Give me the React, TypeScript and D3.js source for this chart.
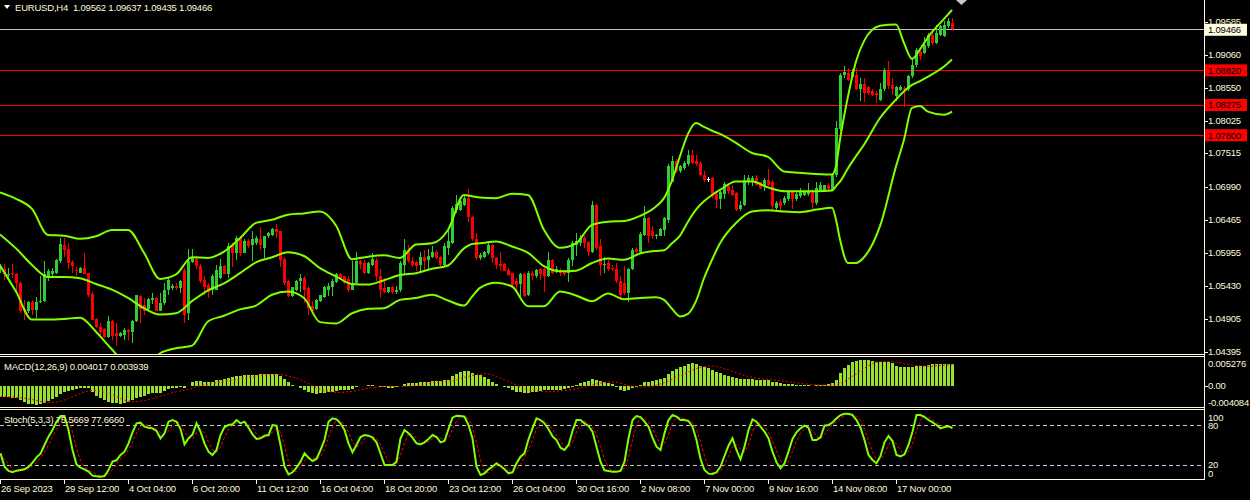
import * as d3 from 'd3';

// EURUSD H4 candles, 239 bars (26 Sep 2023 .. 21 Nov 2023)
const opens = [
  1.0569, 1.0569, 1.0560, 1.0563, 1.0562, 1.0548, 1.0507, 1.0503, 1.0517, 1.0505,
  1.0517, 1.0519, 1.0558, 1.0561, 1.0564, 1.0582, 1.0608, 1.0601, 1.0580, 1.0568,
  1.0564, 1.0571, 1.0563, 1.0531, 1.0491, 1.0479, 1.0475, 1.0463, 1.0487, 1.0469,
  1.0464, 1.0466, 1.0473, 1.0471, 1.0487, 1.0527, 1.0513, 1.0506, 1.0521, 1.0524,
  1.0504, 1.0516, 1.0537, 1.0540, 1.0543, 1.0540, 1.0568, 1.0500, 1.0580, 1.0586,
  1.0575, 1.0553, 1.0545, 1.0537, 1.0537, 1.0555, 1.0575, 1.0562, 1.0608, 1.0595,
  1.0619, 1.0595, 1.0613, 1.0608, 1.0610, 1.0616, 1.0603, 1.0621, 1.0623, 1.0632,
  1.0629, 1.0585, 1.0550, 1.0527, 1.0537, 1.0550, 1.0556, 1.0540, 1.0511, 1.0507,
  1.0519, 1.0526, 1.0537, 1.0542, 1.0549, 1.0562, 1.0558, 1.0554, 1.0537, 1.0548,
  1.0582, 1.0579, 1.0564, 1.0576, 1.0584, 1.0559, 1.0540, 1.0533, 1.0541, 1.0534,
  1.0537, 1.0576, 1.0599, 1.0582, 1.0580, 1.0576, 1.0588, 1.0584, 1.0589, 1.0597,
  1.0589, 1.0576, 1.0603, 1.0610, 1.0663, 1.0663, 1.0671, 1.0681, 1.0651, 1.0617,
  1.0587, 1.0589, 1.0594, 1.0608, 1.0587, 1.0577, 1.0577, 1.0568, 1.0563, 1.0550,
  1.0546, 1.0561, 1.0529, 1.0564, 1.0558, 1.0569, 1.0569, 1.0558, 1.0584, 1.0566,
  1.0568, 1.0566, 1.0563, 1.0584, 1.0608, 1.0611, 1.0618, 1.0612, 1.0597, 1.0671,
  1.0605, 1.0576, 1.0579, 1.0571, 1.0570, 1.0550, 1.0547, 1.0532, 1.0570, 1.0601,
  1.0596, 1.0623, 1.0650, 1.0630, 1.0621, 1.0622, 1.0631, 1.0647, 1.0707, 1.0739,
  1.0723, 1.0728, 1.0734, 1.0749, 1.0739, 1.0736, 1.0718, 1.0711, 1.0713, 1.0687,
  1.0679, 1.0688, 1.0700, 1.0694, 1.0689, 1.0664, 1.0671, 1.0706, 1.0707, 1.0713,
  1.0706, 1.0700, 1.0710, 1.0707, 1.0665, 1.0675, 1.0673, 1.0679, 1.0692, 1.0679,
  1.0684, 1.0686, 1.0687, 1.0692, 1.0673, 1.0694, 1.0694, 1.0702, 1.0694, 1.0718,
  1.0789, 1.0875, 1.0878, 1.0872, 1.0875, 1.0852, 1.0861, 1.0856, 1.0850, 1.0846,
  1.0836, 1.0852, 1.0883, 1.0859, 1.0841, 1.0851, 1.0854, 1.0853, 1.0873, 1.0891,
  1.0912, 1.0909, 1.0920, 1.0938, 1.0925, 1.0938, 1.0936, 1.0951, 1.09562,
];
const highs = [
  1.0578, 1.0577, 1.0571, 1.0577, 1.0564, 1.0551, 1.0521, 1.0519, 1.0521, 1.0526,
  1.0558, 1.0582, 1.0569, 1.0571, 1.0585, 1.0618, 1.0618, 1.0610, 1.0584, 1.0573,
  1.0573, 1.0594, 1.0564, 1.0533, 1.0492, 1.0485, 1.0477, 1.0496, 1.0489, 1.0485,
  1.0470, 1.0477, 1.0475, 1.0490, 1.0529, 1.0529, 1.0524, 1.0524, 1.0532, 1.0525,
  1.0532, 1.0547, 1.0555, 1.0546, 1.0548, 1.0553, 1.0571, 1.0601, 1.0601, 1.0590,
  1.0578, 1.0559, 1.0547, 1.0561, 1.0576, 1.0585, 1.0576, 1.0611, 1.0611, 1.0621,
  1.0621, 1.0616, 1.0616, 1.0629, 1.0621, 1.0636, 1.0622, 1.0628, 1.0634, 1.0641,
  1.0630, 1.0588, 1.0552, 1.0542, 1.0553, 1.0561, 1.0558, 1.0543, 1.0519, 1.0523,
  1.0529, 1.0543, 1.0548, 1.0554, 1.0563, 1.0564, 1.0559, 1.0558, 1.0582, 1.0597,
  1.0584, 1.0583, 1.0581, 1.0595, 1.0587, 1.0569, 1.0555, 1.0542, 1.0543, 1.0543,
  1.0582, 1.0617, 1.0608, 1.0588, 1.0582, 1.0597, 1.0600, 1.0601, 1.0605, 1.0599,
  1.0590, 1.0610, 1.0629, 1.0668, 1.0686, 1.0679, 1.0686, 1.0695, 1.0653, 1.0626,
  1.0595, 1.0598, 1.0610, 1.0609, 1.0589, 1.0597, 1.0579, 1.0571, 1.0564, 1.0555,
  1.0563, 1.0563, 1.0566, 1.0566, 1.0570, 1.0571, 1.0571, 1.0597, 1.0585, 1.0574,
  1.0571, 1.0568, 1.0587, 1.0613, 1.0626, 1.0623, 1.0621, 1.0613, 1.0677, 1.0672,
  1.0617, 1.0589, 1.0584, 1.0576, 1.0579, 1.0558, 1.0574, 1.0571, 1.0603, 1.0604,
  1.0627, 1.0669, 1.0651, 1.0637, 1.0625, 1.0634, 1.0651, 1.0734, 1.0748, 1.0742,
  1.0733, 1.0739, 1.0757, 1.0757, 1.0749, 1.0739, 1.0723, 1.0715, 1.0715, 1.0689,
  1.0693, 1.0706, 1.0704, 1.0702, 1.0690, 1.0676, 1.0718, 1.0718, 1.0716, 1.0718,
  1.0707, 1.0713, 1.0727, 1.0710, 1.0676, 1.0679, 1.0684, 1.0694, 1.0693, 1.0690,
  1.0697, 1.0693, 1.0705, 1.0695, 1.0707, 1.0706, 1.0702, 1.0705, 1.0720, 1.0802,
  1.0878, 1.0889, 1.0886, 1.0884, 1.0886, 1.0870, 1.0870, 1.0858, 1.0853, 1.0849,
  1.0862, 1.0886, 1.0896, 1.0870, 1.0858, 1.0859, 1.0858, 1.0875, 1.0901, 1.0917,
  1.0913, 1.0935, 1.0941, 1.0941, 1.0954, 1.0954, 1.0959, 1.0964, 1.09637,
];
const lows = [
  1.0563, 1.0553, 1.0557, 1.0555, 1.0534, 1.0500, 1.0490, 1.0500, 1.0498, 1.0492,
  1.0516, 1.0517, 1.0550, 1.0558, 1.0562, 1.0579, 1.0589, 1.0569, 1.0563, 1.0558,
  1.0563, 1.0561, 1.0526, 1.0489, 1.0477, 1.0466, 1.0461, 1.0461, 1.0458, 1.0449,
  1.0463, 1.0458, 1.0458, 1.0453, 1.0486, 1.0485, 1.0498, 1.0504, 1.0515, 1.0503,
  1.0503, 1.0513, 1.0529, 1.0537, 1.0536, 1.0532, 1.0485, 1.0490, 1.0579, 1.0570,
  1.0548, 1.0529, 1.0524, 1.0529, 1.0536, 1.0554, 1.0561, 1.0555, 1.0573, 1.0584,
  1.0590, 1.0594, 1.0603, 1.0582, 1.0607, 1.0600, 1.0587, 1.0619, 1.0622, 1.0618,
  1.0573, 1.0545, 1.0525, 1.0525, 1.0535, 1.0534, 1.0516, 1.0498, 1.0500, 1.0505,
  1.0517, 1.0524, 1.0527, 1.0527, 1.0548, 1.0553, 1.0546, 1.0534, 1.0536, 1.0547,
  1.0570, 1.0562, 1.0562, 1.0574, 1.0550, 1.0524, 1.0532, 1.0532, 1.0531, 1.0531,
  1.0534, 1.0561, 1.0579, 1.0573, 1.0567, 1.0567, 1.0566, 1.0569, 1.0587, 1.0585,
  1.0574, 1.0574, 1.0592, 1.0609, 1.0658, 1.0660, 1.0668, 1.0644, 1.0613, 1.0583,
  1.0584, 1.0587, 1.0592, 1.0579, 1.0569, 1.0566, 1.0566, 1.0558, 1.0542, 1.0534,
  1.0524, 1.0526, 1.0527, 1.0553, 1.0555, 1.0553, 1.0534, 1.0557, 1.0562, 1.0563,
  1.0558, 1.0558, 1.0549, 1.0574, 1.0590, 1.0605, 1.0603, 1.0590, 1.0595, 1.0600,
  1.0558, 1.0563, 1.0566, 1.0566, 1.0548, 1.0521, 1.0529, 1.0517, 1.0568, 1.0594,
  1.0595, 1.0621, 1.0611, 1.0616, 1.0616, 1.0621, 1.0621, 1.0642, 1.0706, 1.0720,
  1.0721, 1.0726, 1.0732, 1.0734, 1.0731, 1.0716, 1.0707, 1.0706, 1.0681, 1.0665,
  1.0664, 1.0680, 1.0688, 1.0685, 1.0660, 1.0660, 1.0668, 1.0702, 1.0700, 1.0701,
  1.0695, 1.0692, 1.0700, 1.0660, 1.0662, 1.0663, 1.0671, 1.0676, 1.0664, 1.0676,
  1.0681, 1.0685, 1.0684, 1.0664, 1.0671, 1.0693, 1.0692, 1.0693, 1.0693, 1.0715,
  1.0786, 1.0870, 1.0865, 1.0871, 1.0851, 1.0833, 1.0832, 1.0844, 1.0841, 1.0831,
  1.0833, 1.0849, 1.0852, 1.0844, 1.0833, 1.0849, 1.0825, 1.0849, 1.0870, 1.0888,
  1.0899, 1.0907, 1.0917, 1.0922, 1.0924, 1.0936, 1.0935, 1.0949, 1.09435,
];
const closes = [
  1.0574, 1.0561, 1.0562, 1.0561, 1.0547, 1.0503, 1.0503, 1.0517, 1.0505, 1.0518,
  1.0520, 1.0561, 1.0567, 1.0566, 1.0583, 1.0609, 1.0600, 1.0579, 1.0575, 1.0566,
  1.0571, 1.0562, 1.0529, 1.0490, 1.0479, 1.0471, 1.0463, 1.0487, 1.0464, 1.0464,
  1.0469, 1.0473, 1.0470, 1.0488, 1.0528, 1.0506, 1.0503, 1.0522, 1.0524, 1.0504,
  1.0516, 1.0537, 1.0553, 1.0543, 1.0540, 1.0550, 1.0498, 1.0582, 1.0587, 1.0575,
  1.0551, 1.0542, 1.0534, 1.0558, 1.0568, 1.0575, 1.0562, 1.0605, 1.0595, 1.0618,
  1.0594, 1.0613, 1.0605, 1.0616, 1.0618, 1.0608, 1.0621, 1.0626, 1.0632, 1.0627,
  1.0583, 1.0547, 1.0527, 1.0541, 1.0551, 1.0556, 1.0537, 1.0508, 1.0504, 1.0521,
  1.0528, 1.0542, 1.0543, 1.0551, 1.0562, 1.0554, 1.0548, 1.0536, 1.0548, 1.0582,
  1.0578, 1.0564, 1.0579, 1.0585, 1.0558, 1.0537, 1.0534, 1.0541, 1.0533, 1.0537,
  1.0579, 1.0599, 1.0582, 1.0576, 1.0575, 1.0588, 1.0582, 1.0590, 1.0596, 1.0587,
  1.0576, 1.0605, 1.0613, 1.0665, 1.0672, 1.0676, 1.0681, 1.0651, 1.0616, 1.0587,
  1.0592, 1.0596, 1.0608, 1.0587, 1.0576, 1.0575, 1.0567, 1.0560, 1.0545, 1.0545,
  1.0562, 1.0527, 1.0564, 1.0558, 1.0568, 1.0561, 1.0558, 1.0584, 1.0563, 1.0569,
  1.0563, 1.0561, 1.0584, 1.0610, 1.0613, 1.0618, 1.0610, 1.0597, 1.0671, 1.0603,
  1.0576, 1.0577, 1.0569, 1.0569, 1.0550, 1.0529, 1.0532, 1.0570, 1.0600, 1.0596,
  1.0625, 1.0650, 1.0622, 1.0621, 1.0623, 1.0632, 1.0650, 1.0731, 1.0739, 1.0723,
  1.0731, 1.0737, 1.0749, 1.0736, 1.0735, 1.0718, 1.0710, 1.0711, 1.0684, 1.0678,
  1.0690, 1.0703, 1.0692, 1.0686, 1.0663, 1.0671, 1.0710, 1.0713, 1.0712, 1.0702,
  1.0697, 1.0710, 1.0702, 1.0668, 1.0674, 1.0669, 1.0681, 1.0692, 1.0679, 1.0687,
  1.0692, 1.0690, 1.0692, 1.0673, 1.0697, 1.0701, 1.0701, 1.0695, 1.0718, 1.0791,
  1.0875, 1.0880, 1.0867, 1.0880, 1.0853, 1.0861, 1.0846, 1.0847, 1.0844, 1.0844,
  1.0852, 1.0883, 1.0857, 1.0853, 1.0856, 1.0856, 1.0852, 1.0873, 1.0891, 1.0914,
  1.0905, 1.0922, 1.0938, 1.0925, 1.0941, 1.0951, 1.0954, 1.0959, 1.09466,
];

// Bollinger bands read at sample bars
const bandIdx = [
  0, 4, 8, 12, 16, 20, 24, 28, 32, 36, 40, 44, 48, 52, 56, 60, 64, 68, 72, 76,
  80, 84, 88, 92, 96, 100, 104, 108, 112, 116, 118, 120, 124, 128, 132, 136, 140, 144, 148, 152,
  156, 160, 164, 166, 168, 170, 172, 174, 176, 178, 180, 184, 188, 192, 196, 200, 204, 208, 209, 210,
  212, 214, 216, 220, 224, 226, 228, 230, 232, 236, 238,
];
const bandUpper = [
  1.0690, 1.0680, 1.0664, 1.0623, 1.0622, 1.0617, 1.0621, 1.0631, 1.0631, 1.0595,
  1.0554, 1.0561, 1.0588, 1.0587, 1.0597, 1.0618, 1.0642, 1.0647, 1.0655, 1.0657,
  1.0660, 1.0638, 1.0585, 1.0589, 1.0591, 1.0587, 1.0608, 1.0610, 1.0631, 1.0686,
  1.0684, 1.0682, 1.0681, 1.0688, 1.0686, 1.0631, 1.0603, 1.0610, 1.0639, 1.0644,
  1.0645, 1.0653, 1.0668, 1.0681, 1.0709, 1.0747, 1.0782, 1.0799, 1.0793, 1.0787,
  1.0782, 1.0768, 1.0752, 1.0746, 1.0723, 1.0721, 1.0719, 1.0718, 1.0731, 1.0773,
  1.0841, 1.0896, 1.0928, 1.0952, 1.0954, 1.0925, 1.0900, 1.0915, 1.0934, 1.0963,
  1.0977,
];
const bandMiddle = [
  1.0624, 1.0602, 1.0576, 1.0557, 1.0557, 1.0555, 1.0546, 1.0537, 1.0524, 1.0508,
  1.0498, 1.0500, 1.0519, 1.0536, 1.0547, 1.0563, 1.0580, 1.0588, 1.0596, 1.0590,
  1.0571, 1.0558, 1.0546, 1.0545, 1.0552, 1.0560, 1.0563, 1.0570, 1.0575, 1.0602,
  1.0609, 1.0610, 1.0613, 1.0605, 1.0595, 1.0574, 1.0566, 1.0567, 1.0579, 1.0586,
  1.0584, 1.0594, 1.0598, 1.0599, 1.0610, 1.0622, 1.0644, 1.0663, 1.0676, 1.0686,
  1.0694, 1.0707, 1.0707, 1.0698, 1.0692, 1.0692, 1.0692, 1.0693, 1.0700, 1.0707,
  1.0728, 1.0747, 1.0765, 1.0807, 1.0836, 1.0849, 1.0859, 1.0865, 1.0872, 1.0888,
  1.0899,
];
const bandLower = [
  1.0575, 1.0534, 1.0490, 1.0490, 1.0491, 1.0493, 1.0471, 1.0443, 1.0419, 1.0417,
  1.0437, 1.0445, 1.0449, 1.0487, 1.0496, 1.0506, 1.0512, 1.0529, 1.0534, 1.0524,
  1.0486, 1.0484, 1.0500, 1.0507, 1.0508, 1.0521, 1.0524, 1.0529, 1.0520, 1.0512,
  1.0526, 1.0540, 1.0548, 1.0542, 1.0511, 1.0511, 1.0534, 1.0528, 1.0519, 1.0531,
  1.0522, 1.0524, 1.0525, 1.0521, 1.0507, 1.0495, 1.0499, 1.0519, 1.0555, 1.0584,
  1.0610, 1.0642, 1.0660, 1.0662, 1.0660, 1.0659, 1.0663, 1.0666, 1.0647, 1.0616,
  1.0579, 1.0579, 1.0588, 1.0637, 1.0731, 1.0773, 1.0823, 1.0826, 1.0817, 1.0812,
  1.0817,
];

// MACD(12,26,9) main line, one value per bar
const macd = [
  -0.0020, -0.0020, -0.0021, -0.0022, -0.0023, -0.0026, -0.0029, -0.0033, -0.0034, -0.0036,
  -0.0034, -0.0031, -0.0028, -0.0025, -0.0021, -0.0016, -0.0011, -0.0009, -0.0007, -0.0006,
  -0.0005, -0.0004, -0.0005, -0.0012, -0.0018, -0.0023, -0.0027, -0.0029, -0.0031, -0.0032,
  -0.0033, -0.0031, -0.0029, -0.0027, -0.0022, -0.0020, -0.0018, -0.0016, -0.0014, -0.0014,
  -0.0013, -0.0010, -0.0006, -0.0005, -0.0004, -0.00025, -0.0005, 0.0000, 0.0006, 0.00086,
  0.00086, 0.0007, 0.0006, 0.0007, 0.0010, 0.0011, 0.0012, 0.0015, 0.0016, 0.0018,
  0.0018, 0.0020, 0.0020, 0.0020, 0.0020, 0.0021, 0.0021, 0.00215, 0.0022, 0.00215,
  0.0018, 0.0012, 0.0006, 0.0001, 0.0000, -0.0004, -0.0007, -0.0012, -0.0014, -0.0015,
  -0.0014, -0.00135, -0.0012, -0.00116, -0.0010, -0.00086, -0.0007, -0.0007, -0.0006, -0.0003,
  -0.00012, 0.0000, 0.00012, 0.0002, 0.0000, -0.0002, -0.0003, -0.0004, -0.00043, -0.0003,
  0.0000, 0.00037, 0.00043, 0.0005, 0.0005, 0.0006, 0.0007, 0.0007, 0.00086, 0.00086,
  0.00086, 0.0010, 0.0011, 0.0017, 0.0022, 0.0026, 0.0027, 0.0027, 0.0023, 0.0020,
  0.0020, 0.00165, 0.0012, 0.0006, 0.00025, 0.0000, -0.0002, -0.0005, -0.0008, -0.0011,
  -0.0012, -0.0014, -0.00135, -0.0012, -0.0011, -0.0010, -0.00086, -0.0007, -0.0007, -0.0008,
  -0.0007, -0.00067, -0.0005, -0.0002, 0.00012, 0.00043, 0.0007, 0.00086, 0.0012, 0.0010,
  0.00086, 0.0006, 0.00043, 0.00025, -0.0002, -0.0008, -0.0009, -0.0007, -0.0004, -0.00025,
  0.00012, 0.0006, 0.0007, 0.00086, 0.0010, 0.0012, 0.0015, 0.0021, 0.0027, 0.0031,
  0.0034, 0.0037, 0.0040, 0.0041, 0.0039, 0.0037, 0.0035, 0.0033, 0.0029, 0.0026,
  0.0023, 0.0020, 0.0018, 0.0016, 0.00135, 0.0012, 0.0012, 0.0012, 0.0012, 0.0011,
  0.00104, 0.0010, 0.0010, 0.0007, 0.0006, 0.00043, 0.00037, 0.0003, 0.00025, 0.00018,
  0.00012, 0.00012, 0.00006, 0.0000, 0.00006, 0.00012, 0.00018, 0.00025, 0.00043, 0.0010,
  0.0023, 0.0032, 0.0038, 0.0043, 0.0045, 0.0047, 0.0047, 0.0047, 0.0045, 0.0044,
  0.0043, 0.0043, 0.0043, 0.0042, 0.0036, 0.0034, 0.0034, 0.0034, 0.0035, 0.0036,
  0.0037, 0.0037, 0.0038, 0.0039, 0.0039, 0.0039, 0.0039, 0.0039, 0.004017,
];

// Stochastic(5,3,3) %K, one value per bar
const stochK = [
  37.5, 17.5, 11, 9, 11.5, 12.5, 13.5, 17, 23.5, 31.5,
  37, 50, 62.5, 72.5, 85, 93.5, 93.5, 72.5, 42.5, 21,
  16, 13.5, 10, 4, 3, 2.5, 3.5, 12.5, 25, 27,
  35, 40, 52.5, 69, 82.5, 83.5, 77.5, 76, 75, 71,
  60, 67.5, 85, 87.5, 85, 74, 51, 60, 66, 82.5,
  70, 52.5, 40, 35, 42.5, 65, 77, 80, 81, 87.5,
  82.5, 85, 76, 66, 59, 60, 64, 65, 80, 79,
  50, 17.5, 6, 9, 16, 25, 37.5, 31, 26, 29,
  42.5, 57.5, 85, 90, 88.5, 82.5, 72.5, 52.5, 39, 50,
  62, 65, 64, 61, 54, 37.5, 20, 20, 20, 25,
  60, 72.5, 67.5, 61, 52.5, 51, 54, 59, 65, 62,
  54, 56, 74, 91, 94, 93.5, 92.5, 80, 60, 17.5,
  5, 7.5, 13.5, 17.5, 22.5, 18.5, 13.5, 7.5, 9, 22.5,
  32.5, 37.5, 58.5, 75, 90, 87.5, 82.5, 74, 63, 57.5,
  46, 42.5, 50, 71, 87.5, 87.5, 82.5, 78.5, 70, 47.5,
  25, 12, 11, 10, 10, 11, 25, 60, 87.5, 93.5,
  92, 85, 77.5, 61, 47.5, 42.5, 67.5, 87.5, 95, 92.5,
  87.5, 87.5, 86, 77.5, 57.5, 29, 12.5, 7, 6.5, 9,
  17.5, 33.5, 49, 60, 42.5, 28.5, 47.5, 72.5, 88.5, 85,
  77.5, 70, 60, 40, 24, 15, 22.5, 40, 59, 69,
  75, 79, 76, 57.5, 57.5, 61.5, 79, 80, 84, 90,
  95, 97, 97, 95, 87.5, 76, 57.5, 35, 27.5, 22.5,
  33.5, 54, 63.5, 56, 35, 33, 36, 50, 70, 95,
  95, 92, 87.5, 84, 80, 75, 77, 78, 75.5669,
];

const priceTicks = [1.09585, 1.0906, 1.0855, 1.08025, 1.07515, 1.0699, 1.06465, 1.05955, 1.0543, 1.04905, 1.04395];
const levelLines = [1.0882, 1.08275, 1.078];
const bidPrice = 1.09466;
const timeLabelBars = [0, 16, 32, 48, 64, 80, 96, 112, 128, 144, 160, 176, 192, 208, 224];
const timeLabels = [
  '26 Sep 2023', '29 Sep 12:00', '4 Oct 04:00', '6 Oct 20:00', '11 Oct 12:00',
  '16 Oct 04:00', '18 Oct 20:00', '23 Oct 12:00', '26 Oct 04:00', '30 Oct 16:00',
  '2 Nov 08:00', '7 Nov 00:00', '9 Nov 16:00', '14 Nov 08:00', '17 Nov 00:00',
];

const AXIS_X = 1204;
const TEXT = '#fff8dc';
const BAND = '#80ff00';
const BULL = '#32cd32';
const BEAR = '#ff0000';
const FONT = '"Liberation Sans", Arial, sans-serif';
const FS = 9.5;
const LS = -0.2;

function movingAverage(values: number[], period: number) {
  return values.map((_, i) => d3.mean(values.slice(Math.max(0, i - period + 1), i + 1)) as number);
}

export default function App() {
  const n = closes.length;
  const x = d3.scaleLinear().domain([0, n - 1]).range([0, 4 * (n - 1)]);
  const y = d3.scaleLinear().domain([1.04395, 1.09585]).range([351.7, 21.7]);
  const yMacd = d3.scaleLinear().domain([-0.004084, 0.005276]).range([408, 357]);
  const yStoch = d3.scaleLinear().domain([0, 100]).range([478.3, 411.7]);

  const bandLine = (vals: number[]) =>
    d3.line<number>()
      .x((_, k) => x(bandIdx[k]))
      .y(v => y(v))
      .curve(d3.curveMonotoneX)(vals) ?? '';

  const macdSignal = movingAverage(macd, 9);
  const stochD = movingAverage(stochK, 3);
  const seriesLine = (vals: number[], sy: d3.ScaleLinear<number, number>) =>
    d3.line<number>().x((_, i) => x(i) + 0.5).y(v => sy(v))(vals) ?? '';

  const label = (text: string, yy: number, fill = TEXT) => (
    <text x={1208} y={yy} fill={fill} dominantBaseline="central">{text}</text>
  );

  return (
    <svg width={1250} height={500} style={{ position: 'absolute', left: 0, top: 0, display: 'block' }}
      fontFamily={FONT} fontSize={FS} letterSpacing={LS}>
      <defs>
        <clipPath id="mainClip"><rect x={0} y={0} width={AXIS_X} height={354} /></clipPath>
      </defs>
      <rect width={1250} height={500} fill="#000" />

      {/* main window */}
      <g clipPath="url(#mainClip)">
        {levelLines.map(p => (
          <line key={p} x1={0} x2={AXIS_X} y1={Math.round(y(p)) + 0.5} y2={Math.round(y(p)) + 0.5} stroke="#ff0000" />
        ))}
        <line x1={0} x2={AXIS_X} y1={Math.round(y(bidPrice)) + 0.5} y2={Math.round(y(bidPrice)) + 0.5} stroke="#c0c0c0" />
        <g shapeRendering="crispEdges">
          {closes.map((c, i) => {
            const o = opens[i];
            const col = c > o ? BULL : c < o ? BEAR : '#ffffff';
            const top = y(Math.max(o, c));
            const bot = y(Math.min(o, c));
            const cx = x(i);
            return (
              <g key={i}>
                <line x1={cx + 0.5} x2={cx + 0.5} y1={y(highs[i])} y2={y(lows[i])} stroke={col} />
                {c === o
                  ? <line x1={cx - 1} x2={cx + 2} y1={top} y2={top} stroke={col} />
                  : <rect x={cx - 1} width={3} y={top} height={Math.max(1, bot - top)} fill={col} />}
              </g>
            );
          })}
        </g>
        {[bandUpper, bandMiddle, bandLower].map((b, k) => (
          <path key={k} d={bandLine(b)} fill="none" stroke={BAND} strokeWidth={2} />
        ))}
      </g>
      <path d="M956,0 L967,0 L961.5,5 Z" fill="#c8c8c8" />
      <path d="M4,5 L10,5 L7,9 Z" fill="#ffffff" />
      <text x={15} y={7.5} fill={TEXT} dominantBaseline="central" style={{ whiteSpace: 'pre' }}>
        {'EURUSD,H4  1.09562 1.09637 1.09435 1.09466'}
      </text>

      {/* MACD window */}
      <g shapeRendering="crispEdges">
        {macd.map((v, i) => (
          <rect key={i} x={x(i) - 1} width={3}
            y={Math.min(yMacd(v), yMacd(0))} height={Math.max(0.5, Math.abs(yMacd(v) - yMacd(0)))}
            fill="#9ae02e" />
        ))}
      </g>
      <path d={seriesLine(macdSignal, yMacd)} fill="none" stroke="#ff0000" strokeDasharray="2,2" />
      <text x={4} y={366} fill={TEXT} dominantBaseline="central">MACD(12,26,9) 0.004017 0.003939</text>

      {/* Stochastic window */}
      {[80, 20].map(v => (
        <line key={v} x1={0} x2={AXIS_X} y1={Math.round(yStoch(v)) + 0.5} y2={Math.round(yStoch(v)) + 0.5}
          stroke="#c8c8c8" strokeDasharray="4,3" />
      ))}
      <path d={seriesLine(stochD, yStoch)} fill="none" stroke="#ff0000" strokeDasharray="3,2" />
      <path d={seriesLine(stochK, yStoch)} fill="none" stroke={BAND} strokeWidth={2} />
      <text x={4} y={419} fill={TEXT} dominantBaseline="central">Stoch(5,3,3) 75.5669 77.6660</text>

      {/* frames */}
      <g stroke={TEXT} shapeRendering="crispEdges">
        <line x1={0} x2={AXIS_X} y1={354.5} y2={354.5} />
        <line x1={0} x2={AXIS_X} y1={356.5} y2={356.5} />
        <line x1={0} x2={AXIS_X} y1={407.5} y2={407.5} />
        <line x1={0} x2={AXIS_X} y1={409.5} y2={409.5} />
        <line x1={0} x2={AXIS_X} y1={479.5} y2={479.5} />
        <line x1={AXIS_X + 0.5} x2={AXIS_X + 0.5} y1={0} y2={480} />
        {priceTicks.map(p => (
          <line key={p} x1={AXIS_X} x2={AXIS_X + 4} y1={Math.round(y(p)) + 0.5} y2={Math.round(y(p)) + 0.5} />
        ))}
        <line x1={AXIS_X} x2={AXIS_X + 4} y1={Math.round(yMacd(0)) + 0.5} y2={Math.round(yMacd(0)) + 0.5} />
        {timeLabelBars.map(b => (
          <line key={b} x1={x(b) + 0.5} x2={x(b) + 0.5} y1={480} y2={484} />
        ))}
      </g>

      {/* price axis */}
      {priceTicks.map(p => <g key={p}>{label(p.toFixed(5), y(p) - 0.5)}</g>)}
      <rect x={AXIS_X + 1} y={y(bidPrice) - 5.5} width={42} height={12} fill="#fffde0" />
      {label(bidPrice.toFixed(5), y(bidPrice) + 0.5, '#000')}
      {levelLines.map(p => (
        <g key={p}>
          <rect x={AXIS_X + 1} y={y(p) - 6} width={42} height={12} fill="#ff0000" />
          {label(p.toFixed(5), y(p), '#000')}
        </g>
      ))}

      {/* indicator axes */}
      {label('0.005276', 363)}
      {label('0.00', yMacd(0))}
      {label('-0.004084', 402)}
      {label('100', 417)}
      {label('80', yStoch(80) + 0.5)}
      {label('20', 464)}
      {label('0', 473)}

      {/* time axis */}
      {timeLabelBars.map((b, k) => (
        <text key={b} x={x(b) + 1} y={488.5} fill={TEXT} dominantBaseline="central">{timeLabels[k]}</text>
      ))}
    </svg>
  );
}
